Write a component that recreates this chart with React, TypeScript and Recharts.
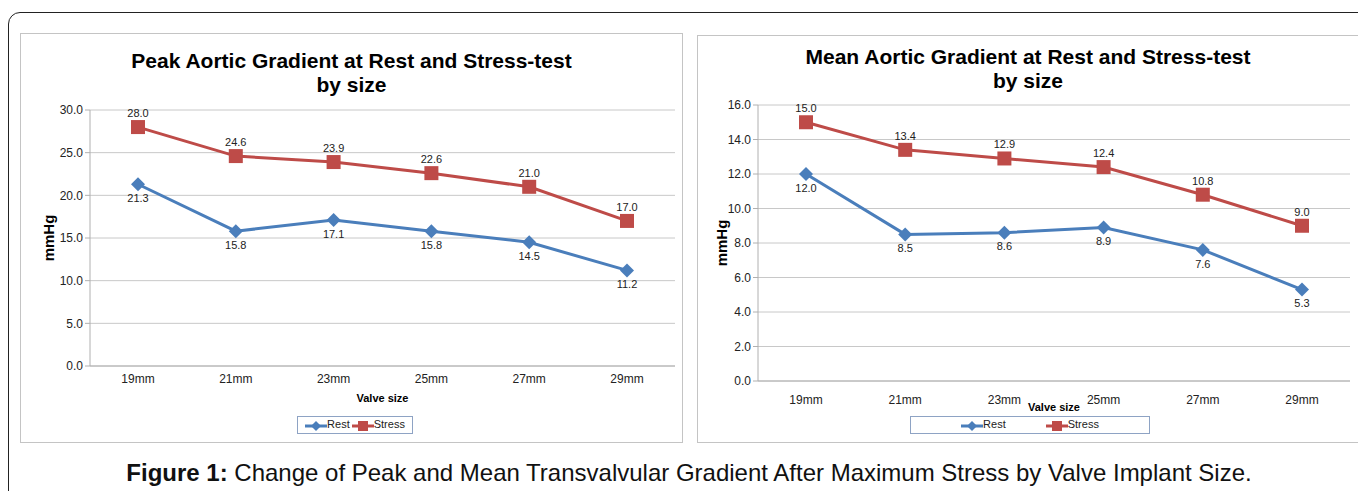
import React from "react";
import {
  CartesianGrid,
  LabelList,
  Legend,
  Line,
  LineChart,
  XAxis,
  YAxis,
} from "recharts";

const sizes = ["19mm", "21mm", "23mm", "25mm", "27mm", "29mm"];
const peakRest = [21.3, 15.8, 17.1, 15.8, 14.5, 11.2];
const peakStress = [28.0, 24.6, 23.9, 22.6, 21.0, 17.0];
const meanRest = [12.0, 8.5, 8.6, 8.9, 7.6, 5.3];
const meanStress = [15.0, 13.4, 12.9, 12.4, 10.8, 9.0];
const peakTicks = [0, 5, 10, 15, 20, 25, 30];
const meanTicks = [0, 2, 4, 6, 8, 10, 12, 14, 16];

const BLUE = "#4a7ebb";
const RED = "#be4b48";
const FONT = "'Liberation Sans', Arial, sans-serif";

const Diamond = (props: any) => {
  const { cx, cy } = props;
  if (cx == null || cy == null) return null;
  const r = 7;
  return (
    <path
      d={`M${cx} ${cy - r} L${cx + r} ${cy} L${cx} ${cy + r} L${cx - r} ${cy} Z`}
      fill={BLUE}
    />
  );
};

const Square = (props: any) => {
  const { cx, cy } = props;
  if (cx == null || cy == null) return null;
  return <rect x={cx - 7} y={cy - 7} width={14} height={14} fill={RED} />;
};

const LegendIcon = ({ color, kind }: { color: string; kind: string }) => (
  <svg width={22} height={12} style={{ verticalAlign: "middle" }}>
    <line x1={0} y1={6} x2={22} y2={6} stroke={color} strokeWidth={3} />
    {kind === "diamond" ? (
      <path d="M11 1 L16 6 L11 11 L6 6 Z" fill={color} />
    ) : (
      <rect x={6} y={1} width={10} height={10} fill={color} />
    )}
  </svg>
);

interface PanelProps {
  left: number;
  top: number;
  width: number;
  height: number;
  title: string;
  rest: number[];
  stress: number[];
  ticks: number[];
  margin: { top: number; right: number; bottom: number; left: number };
  yWidth: number;
  xHeight: number;
  xPad: number;
  xTickMargin: number;
  xLabelDy: number;
  legendBox: { left: number; top: number; width: number; gap: number };
  titleTop: number;
}

const Panel = (p: PanelProps) => {
  const data = sizes.map((s, i) => ({ size: s, rest: p.rest[i], stress: p.stress[i] }));
  const max = p.ticks[p.ticks.length - 1];
  return (
    <div
      style={{
        position: "absolute",
        left: p.left,
        top: p.top,
        width: p.width,
        height: p.height,
        border: "1px solid #c4c4c4",
        boxSizing: "border-box",
        background: "#fff",
      }}
    >
      <div
        style={{
          position: "absolute",
          left: 0,
          top: p.titleTop,
          width: "100%",
          textAlign: "center",
          fontFamily: FONT,
          fontWeight: "bold",
          fontSize: 21,
          lineHeight: "24px",
          color: "#000",
        }}
      >
        {p.title}
        <br />
        by size
      </div>
      <LineChart
        width={p.width - 2}
        height={p.height - 2}
        data={data}
        margin={p.margin}
        style={{ fontFamily: FONT }}
      >
        <CartesianGrid vertical={false} stroke="#c8c8c8" strokeWidth={1} />
        <XAxis
          dataKey="size"
          height={p.xHeight}
          padding={{ left: p.xPad, right: p.xPad }}
          tickLine={false}
          axisLine={{ stroke: "#b0b0b0" }}
          tick={{ fill: "#222", fontSize: 12 }}
          tickMargin={p.xTickMargin}
          label={(lp: any) => {
            const vb = lp.viewBox;
            return (
              <text
                x={vb.x + vb.width / 2}
                y={vb.y + p.xLabelDy}
                textAnchor="middle"
                fontSize={11}
                fontWeight="bold"
                fill="#000"
              >
                Valve size
              </text>
            );
          }}
        />
        <YAxis
          domain={[0, max]}
          ticks={p.ticks}
          width={p.yWidth}
          tickFormatter={(v: number) => v.toFixed(1)}
          axisLine={{ stroke: "#b0b0b0" }}
          tickLine={{ stroke: "#b0b0b0" }}
          tickSize={5}
          tick={{ fill: "#222", fontSize: 12 }}
          label={(lp: any) => {
            const vb = lp.viewBox;
            const cx = vb.x + 7;
            const cy = vb.y + vb.height / 2;
            return (
              <text
                x={cx}
                y={cy}
                transform={`rotate(-90 ${cx} ${cy})`}
                textAnchor="middle"
                dominantBaseline="central"
                fontSize={15}
                fontWeight="bold"
                fill="#000"
              >
                mmHg
              </text>
            );
          }}
        />
        <Legend
          layout="horizontal"
          verticalAlign="middle"
          align="center"
          wrapperStyle={{
            left: p.legendBox.left,
            top: p.legendBox.top,
            width: p.legendBox.width,
            height: 18,
          }}
          content={() => (
            <div
              style={{
                width: "100%",
                height: 18,
                border: "1px solid #8ea3c4",
                boxSizing: "border-box",
                display: "flex",
                justifyContent: "center",
                alignItems: "center",
                gap: p.legendBox.gap,
                fontFamily: FONT,
                fontSize: 11,
                color: "#222",
              }}
            >
              <span>
                <LegendIcon color={BLUE} kind="diamond" />
                Rest
              </span>
              <span>
                <LegendIcon color={RED} kind="square" />
                Stress
              </span>
            </div>
          )}
        />
        <Line
          dataKey="rest"
          name="Rest"
          stroke={BLUE}
          strokeWidth={3}
          dot={<Diamond />}
          activeDot={false}
          isAnimationActive={false}
        >
          <LabelList
            dataKey="rest"
            position="bottom"
            offset={10}
            fontSize={11}
            fill="#222"
            formatter={(v: any) => Number(v).toFixed(1)}
          />
        </Line>
        <Line
          dataKey="stress"
          name="Stress"
          stroke={RED}
          strokeWidth={3}
          dot={<Square />}
          activeDot={false}
          isAnimationActive={false}
        >
          <LabelList
            dataKey="stress"
            position="top"
            offset={10}
            fontSize={11}
            fill="#222"
            formatter={(v: any) => Number(v).toFixed(1)}
          />
        </Line>
      </LineChart>
    </div>
  );
};

export default function App() {
  return (
    <div
      style={{
        position: "absolute",
        left: 0,
        top: 0,
        width: 1358,
        height: 491,
        overflow: "hidden",
        background: "#fff",
      }}
    >
      <div
        style={{
          position: "absolute",
          left: 8,
          top: 12,
          width: 1380,
          height: 520,
          border: "1.5px solid #222",
          borderTopLeftRadius: 12,
          boxSizing: "border-box",
        }}
      />
      <Panel
        left={20}
        top={33}
        width={663}
        height={410}
        title="Peak Aortic Gradient at Rest and Stress-test"
        rest={peakRest}
        stress={peakStress}
        ticks={peakTicks}
        margin={{ top: 76, right: 7, bottom: 41, left: 20 }}
        yWidth={49}
        xHeight={35}
        xPad={48}
        xTickMargin={2}
        xLabelDy={36}
        legendBox={{ left: 276, top: 382, width: 116, gap: 2 }}
        titleTop={15}
      />
      <Panel
        left={697}
        top={35}
        width={662}
        height={408}
        title="Mean Aortic Gradient at Rest and Stress-test"
        rest={meanRest}
        stress={meanStress}
        ticks={meanTicks}
        margin={{ top: 69, right: 8, bottom: 30, left: 16 }}
        yWidth={44}
        xHeight={31}
        xPad={48}
        xTickMargin={8}
        xLabelDy={30}
        legendBox={{ left: 212, top: 380, width: 240, gap: 40 }}
        titleTop={9}
      />
      <div
        style={{
          position: "absolute",
          left: 0,
          top: 459,
          width: 1378,
          textAlign: "center",
          fontFamily: FONT,
          fontSize: 24,
          lineHeight: "28px",
          color: "#111",
        }}
      >
        <b>Figure 1:</b> Change of Peak and Mean Transvalvular Gradient After
        Maximum Stress by Valve Implant Size.
      </div>
    </div>
  );
}
